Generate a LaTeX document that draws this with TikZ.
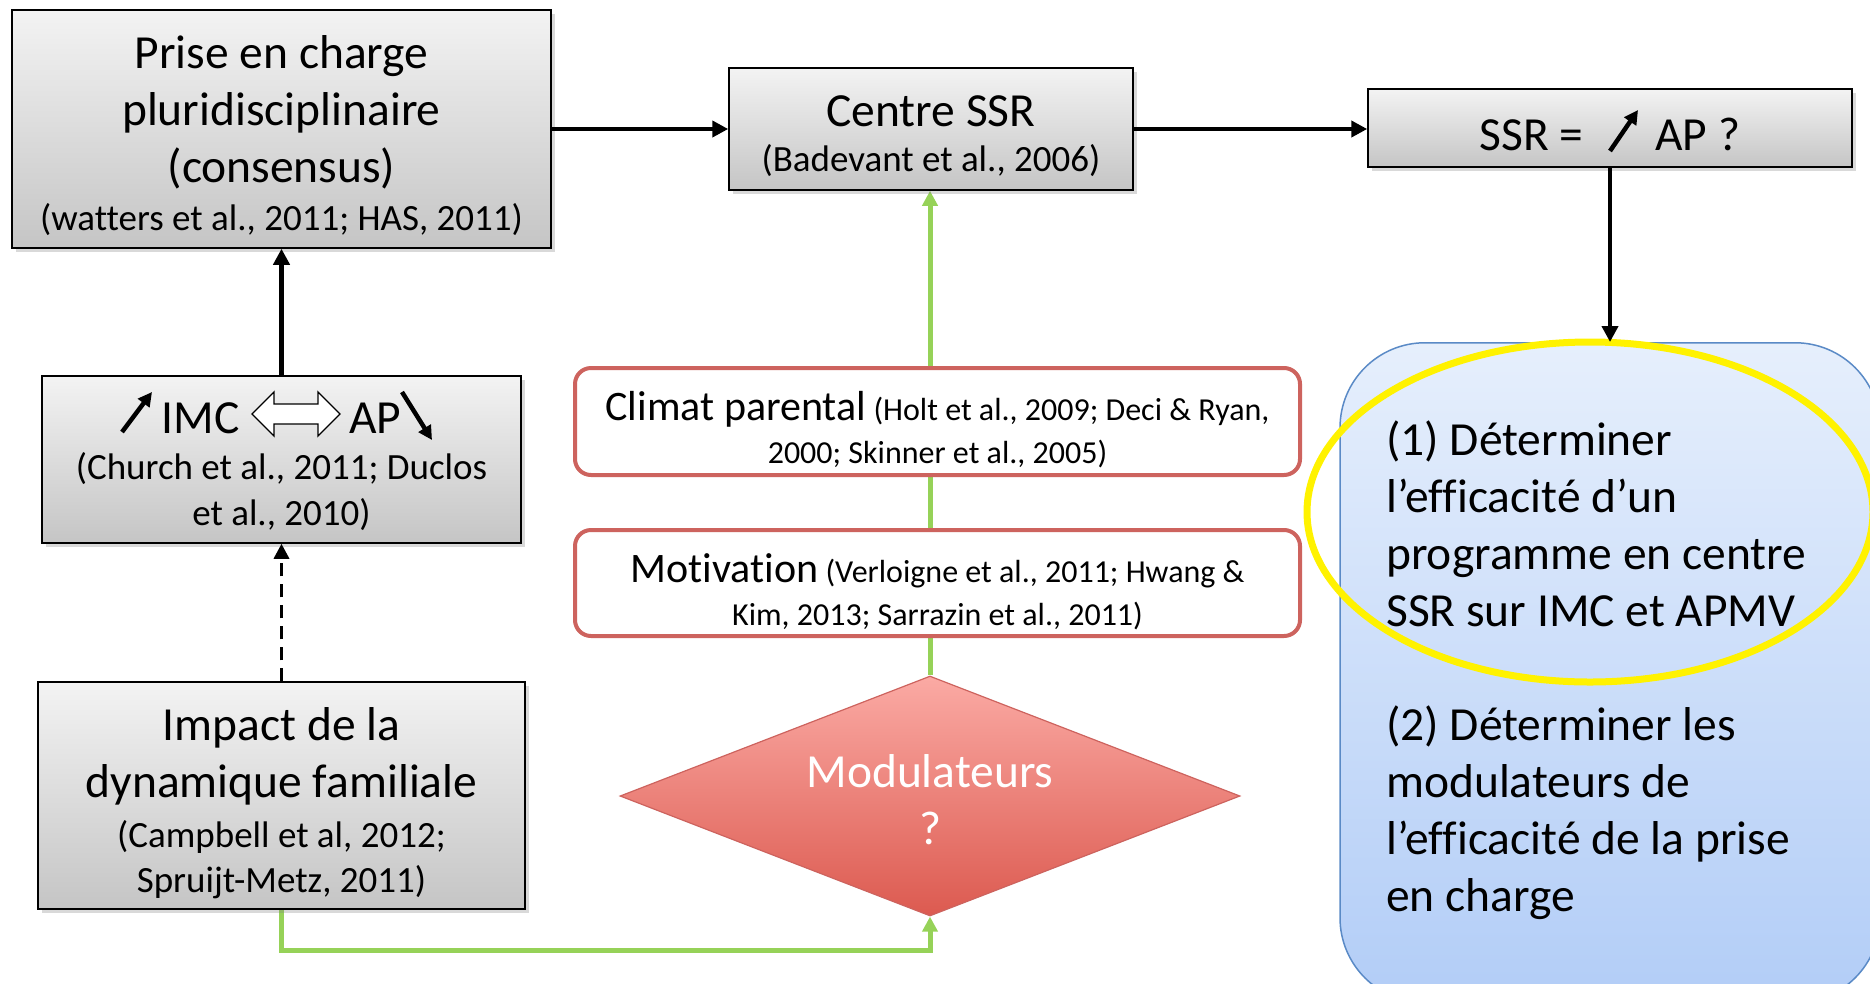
\documentclass[tikz,border=0pt]{standalone}
\usepackage{fontspec}
\setmainfont{Carlito}[Ligatures=NoCommon]
\usetikzlibrary{shapes.geometric,arrows.meta,shadows,calc}
\pgfdeclarelayer{bg}
\pgfsetlayers{bg,main}
\definecolor{gtop}{HTML}{F3F3F3}
\definecolor{gbot}{HTML}{C5C5C5}
\definecolor{redline}{RGB}{205,99,94}
\definecolor{dtop}{HTML}{FBAAA4}
\definecolor{dbot}{HTML}{DC5A50}
\definecolor{btop}{HTML}{E6EFFC}
\definecolor{bbot}{HTML}{B2CDF7}
\definecolor{bline}{HTML}{5A8AC6}
\definecolor{grn}{HTML}{96D258}
\newcommand\szTitle{\fontsize{47.5}{57}\selectfont}
\newcommand\szCite{\fontsize{37}{46}\selectfont}
\newcommand\szMid{\fontsize{42}{43}\selectfont}
\newcommand\szSmall{\fontsize{32}{43}\selectfont}
\begin{document}
\begin{tikzpicture}[x=1pt,y=-1pt,
  graybox/.style={draw=black, line width=1.5pt, top color=gtop, bottom color=gbot,
    inner sep=0pt,
    drop shadow={shadow xshift=4pt, shadow yshift=-4pt, opacity=0.3}},
  redbox/.style={draw=redline, line width=4pt, fill=white, rounded corners=16pt,
    inner sep=0pt},
  diabox/.style={diamond, draw=redline, line width=1.2pt, top color=dtop, bottom color=dbot,
    inner sep=0pt},
  bluebox/.style={draw=bline, line width=1.5pt, top color=btop, bottom color=bbot,
    rounded corners=85pt, inner sep=0pt},
  txt/.style={align=center, inner sep=0pt},
  blk/.style={draw=black, line width=4.5pt, -{Triangle[length=16pt,width=16pt]}},
  dsh/.style={draw=black, line width=3.3pt, dash pattern=on 13pt off 8pt, -{Triangle[length=15pt,width=15pt]}},
  grnarr/.style={draw=grn, line width=5pt, -{Triangle[length=15pt,width=15pt]}},
  thk/.style={draw=black, line width=4.5pt, -{Triangle[length=14pt,width=14pt]}}
]
\useasboundingbox (0,0) rectangle (1870,983);
\clip (0,0) rectangle (1870,983);

% boxes
\node[graybox, minimum width=539pt, minimum height=238pt] (A) at (281.5,129) {};
\node[txt, font=\szTitle] (At) at (281.5,136)
  {Prise en charge\\ pluridisciplinaire\\ (consensus)\\[-9pt] {\szCite (watters et al., 2011; HAS, 2011)}};
\node[graybox, minimum width=404pt, minimum height=122pt] (B) at (931,129) {};
\node[txt, font=\szTitle] (Bt) at (931,136)
  {Centre SSR\\[-12pt] {\szCite (Badevant et al., 2006)}};
\node[graybox, minimum width=484pt, minimum height=78pt] (C) at (1610,128) {};
\node[txt, font=\szTitle] (Ct) at (1610,134) {SSR =\hspace{72pt}AP ?};
\node[graybox, minimum width=479pt, minimum height=167pt] (D) at (281.5,459.5) {};
\node[txt, font=\szCite] (Dt) at (281.5,467)
  {{\szTitle IMC\hspace{110pt}AP}\\ (Church et al., 2011; Duclos\\ et al., 2010)};
\node[graybox, minimum width=487pt, minimum height=227pt] (E) at (281.5,795.5) {};
\node[txt, font=\szTitle] (Et) at (281.5,803)
  {Impact de la\\ dynamique familiale\\[-7pt] {\szCite (Campbell et al, 2012;}\\[-12pt] {\szCite Spruijt-Metz, 2011)}};

\node[redbox, minimum width=725pt, minimum height=107pt] (CL) at (937.5,421.5) {};
\node[txt, font=\szSmall] (CLt) at (937.5,430)
  {{\szMid Climat parental} (Holt et al., 2009; Deci \& Ryan,\\ 2000; Skinner et al., 2005)};
\node[redbox, minimum width=725pt, minimum height=106pt] (MO) at (937.5,583) {};
\node[txt, font=\szSmall] (MOt) at (937.5,592)
  {{\szMid Motivation} (Verloigne et al., 2011; Hwang \&\\ Kim, 2013; Sarrazin et al., 2011)};

\node[diabox, minimum width=620pt, minimum height=240pt] (DI) at (930,796) {};
\node[txt, font=\szTitle, text=white] (DT) at (930,800) {Modulateurs\\ ?};

\node[bluebox, minimum width=540pt, minimum height=660pt, anchor=north] (BL) at (1610,342) {};
\node[anchor=north west, align=left, font=\szTitle, inner sep=0pt] (BT) at (1386,421)
  {(1) Déterminer\\ l’efficacité d’un\\ programme en centre\\ SSR sur IMC et APMV\\[57pt]
   (2) Déterminer les\\ modulateurs de\\ l’efficacité de la prise\\ en charge};
\node[ellipse, draw=yellow, line width=7pt, minimum width=566pt, minimum height=340pt, inner sep=0pt] (HL) at (1590,512) {};

% symbols inside boxes
\draw[thk] (122,432) -- (152,392);
\draw[thk] (402,392) -- (432,440);
\draw[black, line width=1.3pt, fill=white] (252,414) -- (274,392) -- (274,404) -- (318,404) -- (318,392)
  -- (340,414) -- (318,436) -- (318,424) -- (274,424) -- (274,436) -- cycle;
\draw[thk] (1610,151) -- (1638,110);

% connectors
\coordinate (gc) at (930,950);
\begin{pgfonlayer}{bg}
\draw[grnarr] (E.south) |- (gc) -- (DI.south);
\draw[grnarr] (DI.north) -- (DI.north |- B.south);
\end{pgfonlayer}
\draw[blk] (A.east) -- (B.west);
\draw[blk] (B.east) -- (B.east -| C.west);
\draw[blk] (C.south) -- (BL.north);
\draw[blk] (D.north) -- (A.south);
\draw[dsh] (E.north) -- (D.south);
\end{tikzpicture}
\end{document}
